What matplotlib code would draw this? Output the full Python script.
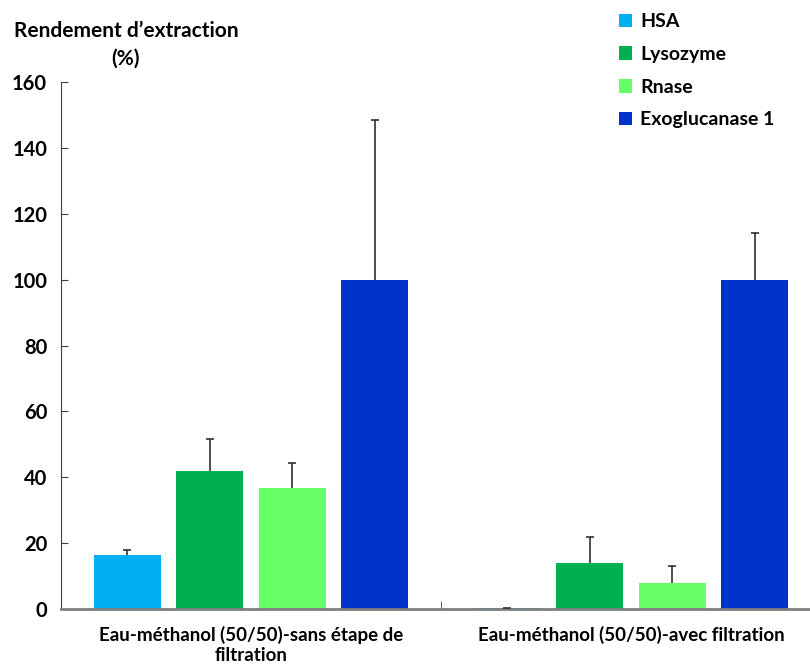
import numpy as np
import matplotlib.pyplot as plt

plt.rcParams['font.family'] = ['Lato', 'DejaVu Sans']

categories = ['Eau-méthanol (50/50)-sans étape de\nfiltration',
              'Eau-méthanol (50/50)-avec filtration']
series = ['HSA', 'Lysozyme', 'Rnase', 'Exoglucanase 1']
colors = ['#00B0F0', '#00B050', '#66FF66', '#0033CC']
values = {
    'HSA': [16.5, 0.4],
    'Lysozyme': [42.0, 14.0],
    'Rnase': [36.7, 8.0],
    'Exoglucanase 1': [100.0, 100.0],
}
errors = {
    'HSA': [1.4, 0.0],
    'Lysozyme': [9.6, 8.0],
    'Rnase': [7.5, 5.0],
    'Exoglucanase 1': [48.5, 14.2],
}

fig = plt.figure(figsize=(8.1, 6.7), dpi=100)
ax = fig.add_axes([61/810, 61/670, 760/810, 527/670])

x = np.arange(len(categories))
step = 0.217
width = 0.177
for i, s in enumerate(series):
    pos = x + (i - 1.5) * step
    ax.bar(pos, values[s], width, color=colors[i], label=s, zorder=2)
    err = np.array(errors[s])
    _, caps, _ = ax.errorbar(pos, values[s], yerr=[np.zeros_like(err), err], fmt='none',
                             ecolor='#303030', elinewidth=1.2, capsize=3, capthick=1.2, zorder=3)
    caps[0].set_visible(False)

ax.set_xlim(-0.5, 1.5)
ax.set_ylim(0, 160)
ax.set_yticks(np.arange(0, 161, 20))
ax.set_xticks(x)
ax.set_xticklabels(categories, fontsize=13.5, fontweight='bold')
ax.set_xticks([0.5], minor=True)
ax.tick_params(axis='x', which='major', length=0, pad=12)
ax.tick_params(axis='x', which='minor', length=6, direction='in', color='#404040')
ax.tick_params(axis='y', direction='in', length=5, color='#404040', labelsize=14.5, pad=10)
for lab in ax.get_yticklabels():
    lab.set_fontweight('bold')

for sp in ['top', 'right']:
    ax.spines[sp].set_visible(False)
ax.spines['left'].set_color('#404040')
ax.spines['bottom'].set_color('#7f7f7f')
ax.spines['bottom'].set_linewidth(2)

fig.text(126/810, 1 - 45/670, "Rendement d\u2019extraction\n(%)", ha='center', va='center',
         fontsize=15, fontweight='bold', linespacing=1.45)

leg = fig.legend(loc='upper left', bbox_to_anchor=(601/810, 1 + 4/670), frameon=False,
                 prop={'size': 14, 'weight': 'bold'}, handlelength=0.7, handleheight=0.7,
                 handletextpad=0.4, labelspacing=0.8)

fig.savefig('out.png', dpi=100)
